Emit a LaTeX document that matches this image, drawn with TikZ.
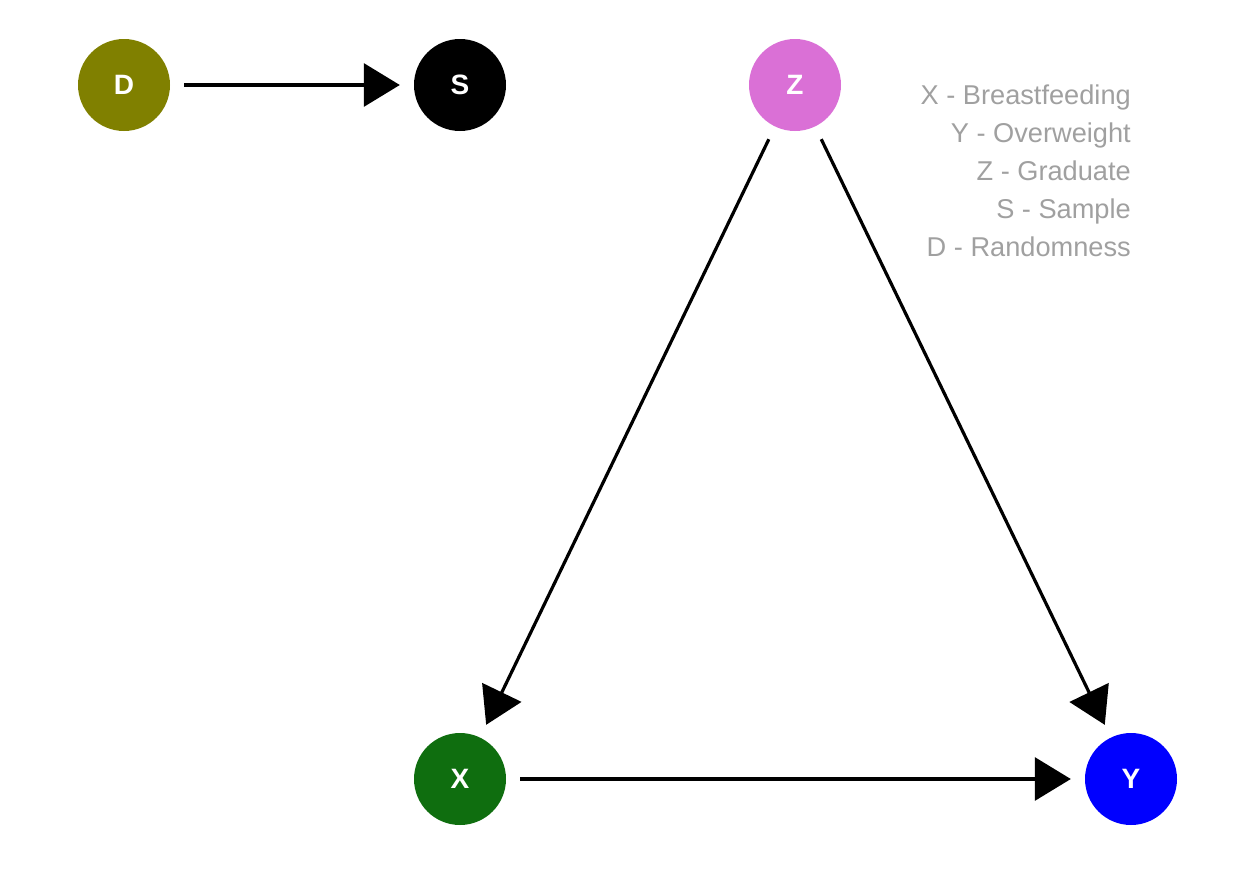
\documentclass[tikz,border=0pt]{standalone}
\usepackage{fontspec}
\setmainfont{Liberation Sans}
\usetikzlibrary{arrows.meta}
\definecolor{dolive}{HTML}{808000}
\definecolor{xgreen}{HTML}{0F6E0F}
\definecolor{zorchid}{HTML}{DA70D6}
\definecolor{yblue}{HTML}{0000FF}
\definecolor{leggray}{HTML}{A0A0A0}
\tikzset{
  var/.style={circle, minimum size=92pt, inner sep=0pt, text=white,
    font=\fontsize{28}{30}\selectfont\bfseries},
  edge/.style={line width=3.2pt, -{Triangle[length=36pt,width=43pt]},
    shorten <=14pt, shorten >=14pt},
  legend/.style={anchor=base east, inner sep=0pt, text=leggray,
    font=\fontsize{27.2}{30}\selectfont}
}
\begin{document}
\begin{tikzpicture}[x=1pt,y=-1pt]
\useasboundingbox (0,0) rectangle (1248,873);
\node[var, fill=dolive] (D) at (124,85) {D};
\node[var, fill=black] (S) at (460,85) {S};
\node[var, fill=zorchid] (Z) at (795,85) {Z};
\node[var, fill=xgreen] (X) at (460,779) {X};
\node[var, fill=yblue] (Y) at (1131,779) {Y};
\draw[edge] (D) -- (S);
\draw[edge] (Z) -- (X);
\draw[edge] (Z) -- (Y);
\draw[edge] (X) -- (Y);
\node[legend] (l1) at (1131,104) {X - Breastfeeding};
\node[legend] (l2) at (1131,142) {Y - Overweight};
\node[legend] (l3) at (1131,180) {Z - Graduate};
\node[legend] (l4) at (1131,218) {S - Sample};
\node[legend] (l5) at (1131,256) {D - Randomness};
\end{tikzpicture}
\end{document}
